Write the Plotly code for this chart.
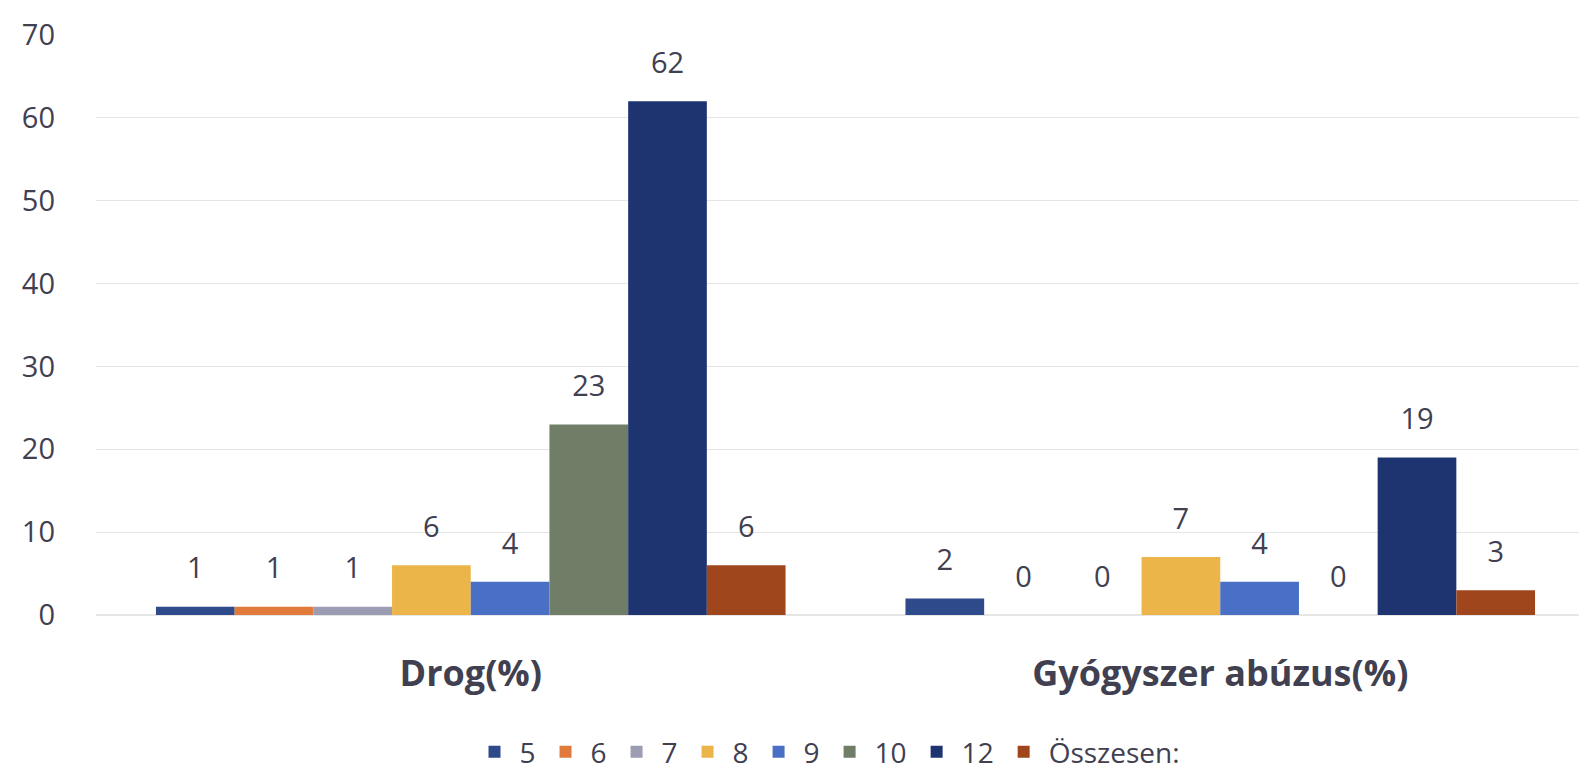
import plotly.graph_objects as go

categories = ["Drog(%)", "Gyógyszer abúzus(%)"]
series_names = ["5", "6", "7", "8", "9", "10", "12", "Összesen:"]
values = {
    "5": [1, 2],
    "6": [1, 0],
    "7": [1, 0],
    "8": [6, 7],
    "9": [4, 4],
    "10": [23, 0],
    "12": [62, 19],
    "Összesen:": [6, 3],
}
colors = ["#2E4A8B", "#E07B3C", "#9C9CB2", "#EBB54A", "#4A70C5", "#707E68", "#1E3470", "#A0461C"]
y_ticks = [0, 10, 20, 30, 40, 50, 60, 70]

FONT = "Open Sans"
TXT = "#404050"

fig = go.Figure()
for name, col in zip(series_names, colors):
    fig.add_trace(go.Bar(
        name=name,
        x=categories,
        y=values[name],
        marker=dict(color=col, line=dict(width=0)),
        offsetgroup=name,
        legendgroup=name,
    ))
for name in series_names:
    fig.add_trace(go.Scatter(
        x=categories,
        y=values[name],
        mode="markers+text",
        text=[str(v) for v in values[name]],
        textposition="top center",
        textfont=dict(family=FONT, size=29, color=TXT),
        marker=dict(size=32, opacity=0),
        offsetgroup=name,
        legendgroup=name,
        showlegend=False,
        hoverinfo="skip",
        cliponaxis=False,
    ))

fig.update_layout(
    barmode="group",
    bargap=0.16,
    bargroupgap=0,
    scattermode="group",
    scattergap=0.16,
    width=1587,
    height=769,
    margin=dict(l=88, r=0, t=27, b=161),
    paper_bgcolor="white",
    plot_bgcolor="white",
    font=dict(family=FONT, color=TXT),
    showlegend=True,
    legend=dict(
        orientation="h",
        x=0.488, xanchor="center",
        y=-0.236, yanchor="middle",
        font=dict(family=FONT, size=28, color=TXT),
        itemwidth=40,
        traceorder="normal",
    ),
    xaxis=dict(
        showline=False,
        showgrid=False,
        ticks="",
        tickfont=dict(family=FONT, size=36, color=TXT, weight="bold"),
        ticklabelstandoff=34,
    ),
    yaxis=dict(
        range=[0, 70],
        tickvals=y_ticks,
        showgrid=True,
        gridcolor="#E6E6E6",
        gridwidth=1,
        zeroline=True,
        zerolinecolor="#E6E6E6",
        showline=False,
        ticks="",
        tickfont=dict(family=FONT, size=29, color=TXT),
        ticklabelstandoff=40,
    ),
)

fig.write_html("out.html")
